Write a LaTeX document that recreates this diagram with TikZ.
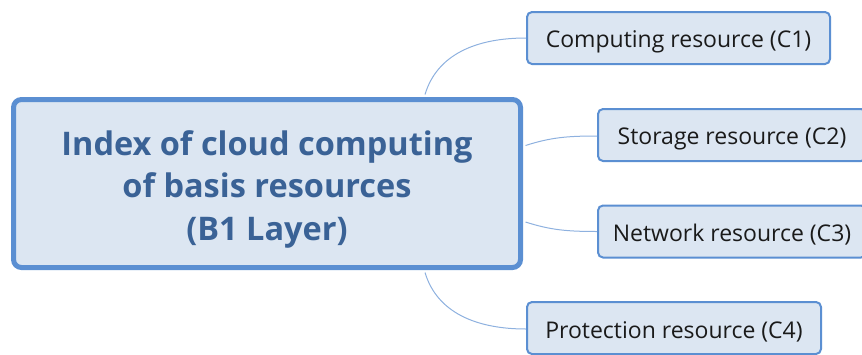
\documentclass[tikz,border=0pt]{standalone}
\usepackage{fontspec}
\setmainfont{Open Sans}
\definecolor{boxfill}{HTML}{DCE6F2}
\definecolor{boxline}{HTML}{5B8FD2}
\definecolor{linkcol}{HTML}{8EB1DF}
\definecolor{maintext}{HTML}{3A6296}
\definecolor{childtext}{HTML}{1A1A1A}
\newcommand{\lowtext}[2]{\raisebox{0pt}[\dimexpr\height+#1\relax][\depth]{#2}}
\begin{document}
\begin{tikzpicture}[x=1pt,y=-1pt,
  mainbox/.style={draw=boxline,fill=boxfill,line width=5pt,rounded corners=8pt,
    minimum width=507pt,minimum height=168pt,inner sep=0pt,
    font=\fontsize{32.5}{42.5}\selectfont\bfseries,text=maintext},
  childbox/.style={draw=boxline,fill=boxfill,line width=2pt,rounded corners=5pt,
    minimum height=52pt,inner sep=0pt,font=\fontsize{23}{26}\selectfont,text=childtext},
  link/.style={draw=linkcol,line width=1pt}]
\useasboundingbox (0,0) rectangle (862,354);
\node[mainbox] (main) at (267,183.5) {\lowtext{11pt}{\renewcommand\arraystretch{1}\setlength\tabcolsep{0pt}\begin{tabular}{c}Index of cloud computing\\of basis resources\\(B1 Layer)\end{tabular}}};
\node[childbox,minimum width=303pt] (c1) at (678.5,38) {\lowtext{7pt}{Computing resource (C1)}};
\node[childbox,minimum width=268pt] (c2) at (732,135) {\lowtext{7pt}{Storage resource (C2)}};
\node[childbox,minimum width=268pt] (c3) at (732,231.5) {\lowtext{7pt}{Network resource (C3)}};
\node[childbox,minimum width=294pt] (c4) at (674,328) {\lowtext{7pt}{Protection resource (C4)}};
\path[link] ([xshift=158pt,yshift=2.5pt]main.north) .. controls +(12,-40) and +(-50,0) .. (c1.west);
\path[link] ([xshift=2.5pt,yshift=38pt]main.east) .. controls +(25,-8) and +(-30,0) .. ([yshift=-1pt]c2.west);
\path[link] ([xshift=2.5pt,yshift=-38.5pt]main.east) .. controls +(25,8) and +(-30,0) .. (c3.west);
\path[link] ([xshift=158pt,yshift=-2.5pt]main.south) .. controls +(12,40) and +(-50,0) .. ([yshift=-1pt]c4.west);
\end{tikzpicture}
\end{document}
